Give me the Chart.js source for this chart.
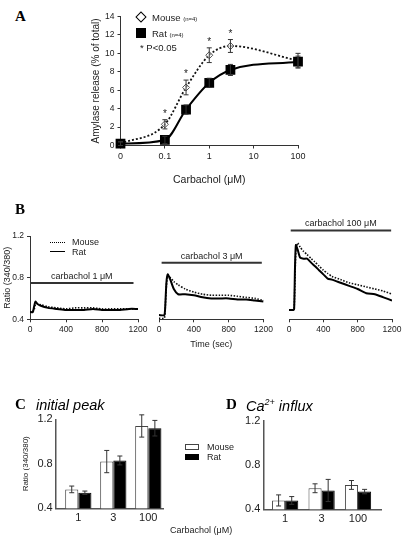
<!DOCTYPE html>
<html>
<head>
<meta charset="utf-8">
<script src="https://cdn.jsdelivr.net/npm/chart.js@4.4.1/dist/chart.umd.min.js"></script>
<style>
  body { margin: 0; background: #fff; }
  #page { position: relative; width: 412px; height: 543px; overflow: hidden; font-family: "Liberation Sans", Arial, sans-serif; color: #222; }
  canvas { position: absolute; }
  .t { position: absolute; white-space: nowrap; line-height: 1; }
  .panel { font-family: "Liberation Serif", "DejaVu Serif", serif; font-weight: bold; font-size: 15px; color: #000; }
  .sub { font-style: italic; font-size: 14.5px; color: #000; }
  .sw { position: absolute; box-sizing: border-box; }
</style>
</head>
<body>
<div id="page">
  <canvas id="chartA" width="232" height="195" style="left:88px;top:0"></canvas>
  <canvas id="chartB1" width="150" height="122" style="left:0;top:228px"></canvas>
  <canvas id="chartB2" width="125" height="152" style="left:150px;top:210px"></canvas>
  <canvas id="chartB3" width="125" height="140" style="left:280px;top:210px"></canvas>
  <canvas id="chartC" width="175" height="143" style="left:0;top:400px"></canvas>
  <canvas id="chartD" width="180" height="143" style="left:215px;top:400px"></canvas>

  <div class="t panel" style="left:15px;top:9px">A</div>
  <div class="t panel" style="left:15px;top:202px">B</div>
  <div class="t panel" style="left:15px;top:397px">C</div>
  <div class="t sub" style="left:36px;top:398px">initial peak</div>
  <div class="t panel" style="left:226px;top:397px">D</div>
  <div class="t sub" style="left:246px;top:398px">Ca<sup style="font-size:9px;vertical-align:6px">2+</sup> influx</div>

  <!-- legend A -->
  <div class="sw" style="left:137px;top:13px;width:8px;height:8px;border:1px solid #000;transform:rotate(45deg);background:#fff"></div>
  <div class="t" style="left:152px;top:13px;font-size:9.5px">Mouse <span style="font-size:6px">(n=4)</span></div>
  <div class="sw" style="left:136px;top:28px;width:10px;height:10px;background:#000"></div>
  <div class="t" style="left:152px;top:29px;font-size:9.5px">Rat <span style="font-size:6px">(n=4)</span></div>
  <div class="t" style="left:140px;top:43px;font-size:9.5px">* P&lt;0.05</div>

  <!-- legend B -->
  <div class="sw" style="left:50px;top:242px;width:15px;height:0;border-top:1.5px dotted #000"></div>
  <div class="t" style="left:72px;top:238px;font-size:9px">Mouse</div>
  <div class="sw" style="left:50px;top:251px;width:15px;height:0;border-top:1.5px solid #000"></div>
  <div class="t" style="left:72px;top:248px;font-size:9px">Rat</div>

  <!-- legend C/D -->
  <div class="sw" style="left:185px;top:444px;width:14px;height:6px;border:1px solid #444;background:#fff"></div>
  <div class="t" style="left:207px;top:443px;font-size:9px">Mouse</div>
  <div class="sw" style="left:185px;top:454px;width:14px;height:6px;background:#000"></div>
  <div class="t" style="left:207px;top:453px;font-size:9px">Rat</div>
  <div class="t" style="left:170px;top:526px;font-size:9px">Carbachol (&mu;M)</div>
</div>
<script>
// ---- A: amylase release ----
const concentrations = [0, 0.1, 0.3, 1, 3, 100];
const mouseRelease = [0.2, 2.3, 6.3, 9.8, 10.8, 9.2];
const mouseReleaseErr = [0.2, 0.5, 0.8, 0.8, 0.7, 0.8];
const ratRelease = [0.2, 0.6, 3.9, 6.8, 8.2, 9.1];
const ratReleaseErr = [0.2, 0.4, 0.5, 0.5, 0.6, 0.6];
const significant = [false, true, true, true, true, false];
const concTicks = [0.01, 0.1, 1, 10, 100];
const concTickLabels = ['0', '0.1', '1', '10', '100'];

// ---- B: Ca traces ----
const time1 = [0, 30, 45, 60, 80, 120, 200, 300, 400, 500, 600, 700, 800, 900, 1000, 1100, 1200];
const mouse1 = [0.47, 0.47, 0.49, 0.54, 0.55, 0.54, 0.52, 0.51, 0.50, 0.51, 0.51, 0.51, 0.50, 0.50, 0.50, 0.50, 0.50];
const rat1 = [0.47, 0.47, 0.52, 0.57, 0.55, 0.53, 0.51, 0.50, 0.49, 0.49, 0.49, 0.50, 0.49, 0.49, 0.49, 0.50, 0.50];

const time2 = [0, 60, 70, 85, 100, 130, 170, 220, 300, 400, 500, 600, 700, 800, 900, 1000, 1100, 1200];
const mouse2 = [0.41, 0.41, 0.48, 0.72, 0.82, 0.80, 0.76, 0.73, 0.69, 0.66, 0.64, 0.63, 0.63, 0.63, 0.62, 0.61, 0.60, 0.58];
const rat2 = [0.44, 0.44, 0.50, 0.75, 0.83, 0.78, 0.69, 0.64, 0.64, 0.63, 0.61, 0.60, 0.60, 0.60, 0.59, 0.59, 0.58, 0.57];

const time3 = [0, 50, 60, 70, 80, 100, 130, 170, 210, 260, 300, 350, 400, 450, 500, 600, 700, 800, 900, 1000, 1100, 1200];
const mouse3 = [0.49, 0.49, 0.50, 0.80, 1.05, 1.13, 1.09, 1.05, 1.02, 0.98, 0.95, 0.91, 0.87, 0.84, 0.81, 0.78, 0.75, 0.73, 0.71, 0.69, 0.67, 0.64];
const rat3 = [0.49, 0.49, 0.50, 0.90, 1.11, 1.07, 0.99, 0.98, 0.98, 0.94, 0.91, 0.87, 0.83, 0.79, 0.78, 0.75, 0.72, 0.69, 0.65, 0.64, 0.61, 0.58];

const stimLabels = ['carbachol 1 \u03bcM', 'carbachol 3 \u03bcM', 'carbachol 100 \u03bcM'];
const stimLevel = [0.75, 0.94, 1.25];
const stimStart = [0, 30, 20];
const stimEnd = [1150, 1180, 1190];

// ---- C / D: bar summaries ----
const doses = ['1', '3', '100'];
const peakMouse = [0.57, 0.82, 1.14];
const peakMouseErr = [0.03, 0.10, 0.10];
const peakRat = [0.54, 0.83, 1.12];
const peakRatErr = [0.015, 0.04, 0.07];
const influxMouse = [0.48, 0.59, 0.62];
const influxMouseErr = [0.05, 0.04, 0.04];
const influxRat = [0.48, 0.57, 0.56];
const influxRatErr = [0.035, 0.10, 0.02];

Chart.defaults.font.family = '"Liberation Sans", Arial, sans-serif';
Chart.defaults.color = '#222';
Chart.defaults.animation = false;
Chart.defaults.plugins.legend.display = false;
Chart.defaults.plugins.tooltip.enabled = false;

// error bars from dataset.errorBars, drawn through the y scale
const errorBarPlugin = {
  id: 'errorBars',
  afterDatasetsDraw(chart) {
    const ctx = chart.ctx;
    const ys = chart.scales.y;
    chart.data.datasets.forEach((ds, i) => {
      if (!ds.errorBars) return;
      const meta = chart.getDatasetMeta(i);
      ctx.save();
      ctx.strokeStyle = ds.errorColor || '#333';
      ctx.lineWidth = 1;
      meta.data.forEach((el, j) => {
        const raw = ds.data[j];
        const v = typeof raw === 'object' ? raw.y : raw;
        const e = ds.errorBars[j];
        const top = ys.getPixelForValue(v + e);
        const bot = ys.getPixelForValue(v - e);
        const cap = ds.capWidth || 2.5;
        ctx.beginPath();
        ctx.moveTo(el.x, top); ctx.lineTo(el.x, bot);
        ctx.moveTo(el.x - cap, top); ctx.lineTo(el.x + cap, top);
        ctx.moveTo(el.x - cap, bot); ctx.lineTo(el.x + cap, bot);
        ctx.stroke();
        if (ds.stars && ds.stars[j]) {
          ctx.fillStyle = '#222';
          ctx.font = '10px "Liberation Sans", Arial';
          ctx.textAlign = 'center';
          ctx.textBaseline = 'alphabetic';
          ctx.fillText('*', el.x, top - 3);
        }
      });
      ctx.restore();
    });
  }
};

// text over the stimulation bar
const stimLabelPlugin = {
  id: 'stimLabel',
  afterDatasetsDraw(chart) {
    const ctx = chart.ctx;
    chart.data.datasets.forEach((ds, i) => {
      if (!ds.stimLabel) return;
      const pts = chart.getDatasetMeta(i).data;
      const x = (pts[0].x + pts[pts.length - 1].x) / 2;
      ctx.save();
      ctx.fillStyle = '#222';
      ctx.font = '9px "Liberation Sans", Arial';
      ctx.textAlign = 'center';
      ctx.textBaseline = 'bottom';
      ctx.fillText(ds.stimLabel, x, pts[0].y - 2);
      ctx.restore();
    });
  }
};

const fixW = (w) => (s) => { s.width = w; };
const fixH = (h) => (s) => { s.height = h; };
const axisGrid = { drawOnChartArea: false, drawTicks: true, tickLength: 3, color: '#333' };
const axisBorder = { color: '#333', width: 1 };

// ---- A ----
const xPos = concentrations.map(c => (c === 0 ? 0.01 : c)); // "0" sits one decade below 0.1
new Chart(document.getElementById('chartA'), {
  type: 'line',
  data: {
    datasets: [
      {
        label: 'Rat',
        data: xPos.map((x, i) => ({ x, y: ratRelease[i] })),
        errorBars: ratReleaseErr,
        borderColor: '#000', borderWidth: 2,
        pointStyle: 'rect', pointRadius: 5.5,
        pointBackgroundColor: '#000', pointBorderColor: '#000',
        cubicInterpolationMode: 'monotone', clip: false
      },
      {
        label: 'Mouse',
        data: xPos.map((x, i) => ({ x, y: mouseRelease[i] })),
        errorBars: mouseReleaseErr, stars: significant,
        borderColor: '#111', borderWidth: 1.8, borderDash: [2, 2],
        pointStyle: 'rectRot', pointRadius: 3.5, pointBorderWidth: 1,
        pointBackgroundColor: 'rgba(255,255,255,0.6)', pointBorderColor: '#555',
        cubicInterpolationMode: 'monotone', clip: false
      }
    ]
  },
  options: {
    responsive: false, devicePixelRatio: 1,
    layout: { padding: { top: 16.5, right: 22, left: 0, bottom: 0 } },
    scales: {
      x: {
        type: 'logarithmic', min: 0.01, max: 100,
        afterBuildTicks: (s) => { s.ticks = concTicks.map(v => ({ value: v })); },
        afterFit: fixH(49.5),
        ticks: { callback: (v, i) => concTickLabels[i], font: { size: 9 }, padding: 3, maxRotation: 0 },
        grid: axisGrid, border: axisBorder,
        title: { display: true, text: 'Carbachol (\u03bcM)', font: { size: 10.5 }, padding: { top: 0, bottom: 9 } }
      },
      y: {
        min: 0, max: 14,
        afterFit: fixW(32.5),
        ticks: { stepSize: 2, font: { size: 8.5 }, padding: 3 },
        grid: axisGrid, border: axisBorder,
        title: { display: true, text: 'Amylase release (% of total)', font: { size: 10 }, padding: { top: 2, bottom: 0 } }
      }
    }
  },
  plugins: [errorBarPlugin]
});

// ---- B ----
function traceChart(id, times, mouse, rat, k, opts) {
  const stim = [{ x: stimStart[k], y: stimLevel[k] }, { x: stimEnd[k], y: stimLevel[k] }];
  const yScale = {
    display: opts.showY, min: 0.4, max: opts.ymax,
    ticks: { stepSize: 0.4, font: { size: 8.5 }, padding: 3, callback: (v) => v.toFixed(1) },
    grid: axisGrid, border: axisBorder,
    title: { display: true, text: 'Ratio (340/380)', font: { size: 9 }, padding: { top: 2, bottom: 0 } }
  };
  if (opts.showY) yScale.afterFit = fixW(30);
  return new Chart(document.getElementById(id), {
    type: 'line',
    data: {
      datasets: [
        { data: times.map((t, i) => ({ x: t, y: rat[i] })), borderColor: '#000', borderWidth: 2, pointRadius: 0, tension: 0.2 },
        { data: times.map((t, i) => ({ x: t, y: mouse[i] })), borderColor: '#111', borderWidth: 1.6, borderDash: [1.5, 1.5], pointRadius: 0, tension: 0.2 },
        { data: stim, stimLabel: stimLabels[k], borderColor: '#333', borderWidth: 2, pointRadius: 0, clip: false }
      ]
    },
    options: {
      responsive: false, devicePixelRatio: 1,
      layout: { padding: opts.padding },
      scales: {
        x: {
          type: 'linear', min: 0, max: 1200,
          afterFit: fixH(opts.xh),
          ticks: { stepSize: 400, font: { size: 8.5 }, padding: 2, maxRotation: 0, callback: (v) => String(v) },
          grid: axisGrid, border: axisBorder,
          title: opts.xTitle ? { display: true, text: opts.xTitle, font: { size: 9 }, padding: { top: 0, bottom: opts.titlePad } } : { display: false }
        },
        y: yScale
      }
    },
    plugins: [stimLabelPlugin]
  });
}
traceChart('chartB1', time1, mouse1, rat1, 0, { padding: { top: 7.7, right: 12, left: 0, bottom: 0 }, xh: 30.7, showY: true, ymax: 1.2 });
traceChart('chartB2', time2, mouse2, rat2, 1, { padding: { top: 15.25, right: 11, left: 9, bottom: 0 }, xh: 42.7, showY: false, ymax: 1.3, xTitle: 'Time (sec)', titlePad: 12 });
traceChart('chartB3', time3, mouse3, rat3, 2, { padding: { top: 15.25, right: 13, left: 9, bottom: 0 }, xh: 30.7, showY: false, ymax: 1.3 });

// ---- C / D ----
function barChart(id, mouse, mouseErr, rat, ratErr, opts) {
  return new Chart(document.getElementById(id), {
    type: 'bar',
    data: {
      datasets: [
        { data: doses.map((d, i) => ({ x: i, y: mouse[i] })), errorBars: mouseErr, backgroundColor: '#fff', borderColor: '#444', borderWidth: 1, categoryPercentage: opts.cat, barPercentage: 1 },
        { data: doses.map((d, i) => ({ x: i, y: rat[i] })), errorBars: ratErr, backgroundColor: '#000', borderColor: '#000', borderWidth: 1, categoryPercentage: opts.cat, barPercentage: 1 }
      ]
    },
    options: {
      responsive: false, devicePixelRatio: 1,
      layout: { padding: opts.padding },
      scales: {
        x: {
          type: 'linear', min: opts.xmin, max: opts.xmax, offset: false,
          afterBuildTicks: (s) => { s.ticks = doses.map((d, i) => ({ value: i })); },
          afterFit: fixH(opts.xh),
          ticks: { callback: (v, i) => doses[i], font: { size: 11 }, padding: 3, maxRotation: 0 },
          grid: { display: false, drawTicks: false }, border: { color: '#555', width: 1.5 }
        },
        y: {
          min: 0.4, max: 1.2,
          afterFit: fixW(opts.yw),
          ticks: { stepSize: 0.4, font: { size: 11 }, padding: 3, callback: (v) => v.toFixed(1) },
          grid: { display: false, drawTicks: false }, border: { color: '#555', width: 1.5 },
          title: opts.yTitle ? { display: true, text: opts.yTitle, font: { size: 8 }, padding: { top: opts.yTitlePad, bottom: 0 } } : { display: false }
        }
      }
    },
    plugins: [errorBarPlugin]
  });
}
barChart('chartC', peakMouse, peakMouseErr, peakRat, peakRatErr, {
  padding: { top: 19.3, right: 12, left: 0, bottom: 0 }, xh: 34.7, yw: 55.7,
  xmin: -0.646, xmax: 2.42, cat: 0.75, yTitle: 'Ratio (340/380)', yTitlePad: 21
});
barChart('chartD', influxMouse, influxMouseErr, influxRat, influxRatErr, {
  padding: { top: 20.7, right: 14, left: 0, bottom: 0 }, xh: 33.7, yw: 48.3,
  xmin: -0.6, xmax: 2.63, cat: 0.72
});
</script>
</body>
</html>
